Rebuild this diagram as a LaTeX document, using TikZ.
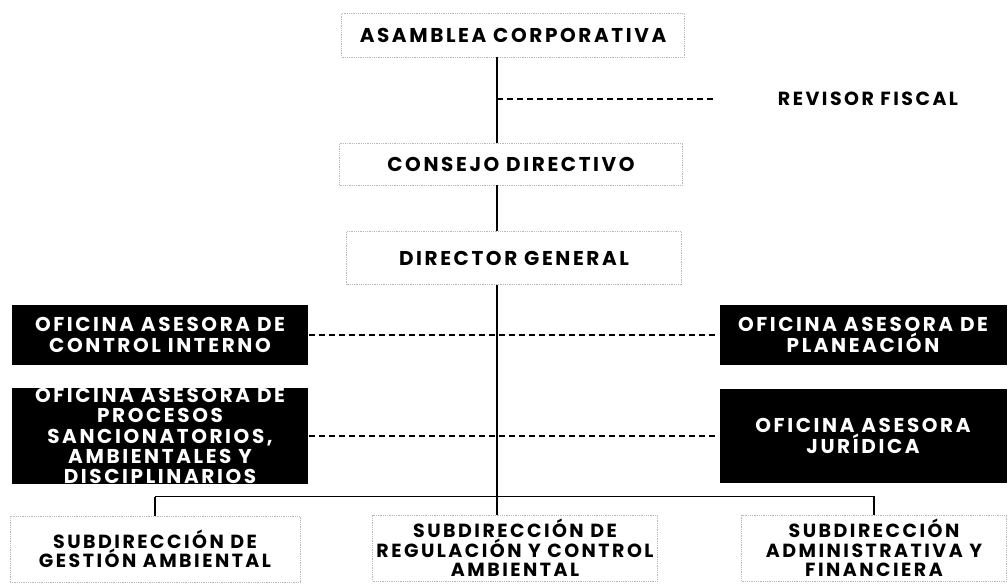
\documentclass[tikz,border=0pt]{standalone}
\usepackage{fontspec}
\setsansfont{Poppins}[LetterSpace=13]

\begin{document}
\begin{tikzpicture}[x=1pt, y=-1pt, line width=1.6pt,
    every node/.style={font=\sffamily\bfseries\fontsize{19}{22}\selectfont, align=center, inner sep=2pt},
    unit/.style={draw=gray!55, densely dotted, line width=0.8pt, fill=white, font=\sffamily\bfseries\fontsize{20}{21.5}\selectfont},
    subunit/.style={unit, minimum height=66, font=\sffamily\bfseries\fontsize{19}{19.5}\selectfont},
    office/.style={fill=black, text=white, inner sep=0pt, font=\sffamily\bfseries\fontsize{20}{20.2}\selectfont},
    adviser/.style={dash pattern=on 6pt off 4pt, line width=1.4pt}]
  \useasboundingbox (0,0) rectangle (1008,585);
  \coordinate (trunk) at (497,0);
  % governing bodies
  \node[unit, minimum width=343, minimum height=44] (asamblea) at (513,35) {ASAMBLEA CORPORATIVA};
  \node[unit, minimum width=343, minimum height=42] (consejo) at (511,164) {CONSEJO DIRECTIVO};
  \node[unit, minimum width=335, minimum height=53] (director) at (514,258) {DIRECTOR GENERAL};
  \node (revisor) at (868,99) {REVISOR FISCAL};
  \coordinate (revend) at (716,99);
  % advisory offices
  \node[office, minimum width=296, minimum height=60] (control) at (160,335) {OFICINA ASESORA DE\\CONTROL INTERNO};
  \node[office, minimum width=287, minimum height=60] (planeacion) at (863,335) {OFICINA ASESORA DE\\PLANEACIÓN};
  \node[office, minimum width=296, minimum height=94] (procesos) at (160,436) {OFICINA ASESORA DE\\PROCESOS\\SANCIONATORIOS,\\AMBIENTALES Y\\DISCIPLINARIOS};
  \node[office, minimum width=287, minimum height=94] (juridica) at (863,436) {OFICINA ASESORA\\JURÍDICA};
  % subdirectorates
  \node[subunit, minimum width=290] (gestion) at (155,549) {SUBDIRECCIÓN DE\\GESTIÓN AMBIENTAL};
  \node[subunit, minimum width=285] (regulacion) at (515,548) {SUBDIRECCIÓN DE\\REGULACIÓN Y CONTROL\\AMBIENTAL};
  \node[subunit, minimum width=265] (admin) at (874,548) {SUBDIRECCIÓN\\ADMINISTRATIVA Y\\FINANCIERA};

  \draw (asamblea.south -| trunk) -- (consejo.north -| trunk);
  \draw (consejo.south -| trunk) -- (director.north -| trunk);
  \draw (director.south -| trunk) -- (regulacion.north -| trunk);
  \draw[adviser] (trunk |- revisor) -- (revend);
  \foreach \l/\r in {control/planeacion, procesos/juridica} {
    \draw[adviser] (\l.east) -- (\r.west);
  }
  \draw (regulacion.north) ++(0,-18) coordinate (bus)
    (gestion.north |- bus) -- (gestion.north)
    (gestion.north |- bus) -| (admin.north);
\end{tikzpicture}
\end{document}
